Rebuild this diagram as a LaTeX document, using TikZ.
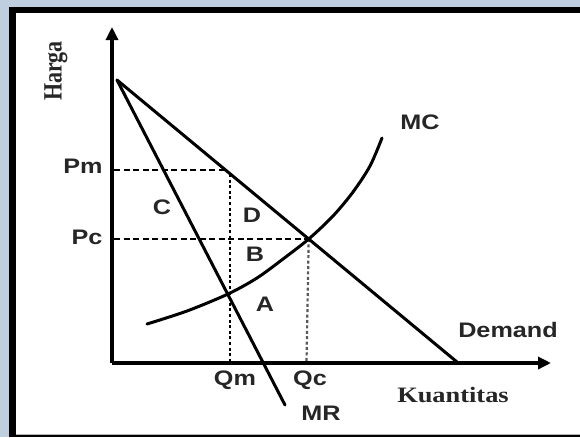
\documentclass[tikz,border=0pt]{standalone}
\usepackage{fontspec}
\usetikzlibrary{arrows.meta}
\newfontfamily\labfont{Liberation Sans}[FakeStretch=1.2]
\newfontfamily\serfont{Liberation Serif}[FakeStretch=1.2]
\newfontfamily\serplain{Liberation Serif}
\definecolor{bgblue}{HTML}{BFCFE0}
\tikzset{
  axisline/.style={line width=3.6pt,-{Triangle[length=13pt,width=12pt]}},
  curveline/.style={line width=3pt,line cap=round},
  dashline/.style={line width=2.4pt,dash pattern=on 6pt off 3.5pt},
  dotline/.style={line width=2.8pt,dash pattern=on 3pt off 2.6pt},
  dotlight/.style={line width=2.2pt,dash pattern=on 3pt off 2.4pt,black!65},
  lab/.style={font=\labfont\bfseries\fontsize{21}{21}\selectfont,inner sep=0pt,text=black!85},
  serlab/.style={font=\serfont\bfseries\fontsize{22}{22}\selectfont,inner sep=0pt,text=black!85}
}
\begin{document}
\begin{tikzpicture}[x=1pt,y=-1pt]
\useasboundingbox (0,0) rectangle (580,437);
% frame
\fill[bgblue] (0,0) rectangle (580,437);
\fill[black] (9,7) rectangle (580,437);
\fill[white] (16,13) rectangle (580,434);
\draw[black!30,line width=1pt] (16,434.5) -- (580,434.5);
% coordinates
\coordinate (O) at (112,363);
\coordinate (ytop) at (112,27);
\coordinate (xend) at (551,363);
\coordinate (dS) at (117,80);
\coordinate (dE) at (457,362);
\coordinate (mrE) at (285,405);
\coordinate (pmY) at (114,170);
\coordinate (pm) at (225.5,170);
\coordinate (pcY) at (114,239);
\coordinate (pc) at (308.7,239);
\coordinate (qmTop) at (230,174);
\coordinate (qmBot) at (230,362);
\coordinate (qcBot) at (306.5,362);
% dashed guides
\draw[dashline] (pmY) -- (pm);
\draw[dashline] (pcY) -- (pc);
\draw[dotline] (qmTop) -- (qmBot);
\draw[dotlight] (pc) -- (qcBot);
% axes
\draw[axisline] (O) -- (ytop);
\draw[axisline] (O) -- (xend);
% demand and MR
\draw[curveline] (dS) -- (dE);
\draw[curveline] (dS) -- (mrE);
% MC
\draw[curveline] plot[smooth,tension=0.5] coordinates {(147,324) (187,311) (228,294) (257,278) (283,259) (308.7,239) (333,216) (353,192) (370,166) (382,138)};
% labels
\node[serlab,rotate=90] (harga) at (56,71) {\serplain\bfseries\scalebox{1}[1.2]{Harga}};
\node[lab] (lpm) at (83,166) {Pm};
\node[lab] (lpc) at (87,237) {Pc};
\node[lab] (lc) at (162,207) {C};
\node[lab] (ld) at (252,215) {D};
\node[lab] (lb) at (255,254) {B};
\node[lab] (la) at (265,304) {A};
\node[lab] (lqm) at (235,380) {Qm};
\node[lab] (lqc) at (310,380) {Qc};
\node[lab] (lmr) at (321,413) {MR};
\node[lab] (lmc) at (420,122) {MC};
\node[lab] (ldem) at (508,330) {Demand};
\node[serlab] (lk) at (453,395) {Kuantitas};
\end{tikzpicture}
\end{document}
